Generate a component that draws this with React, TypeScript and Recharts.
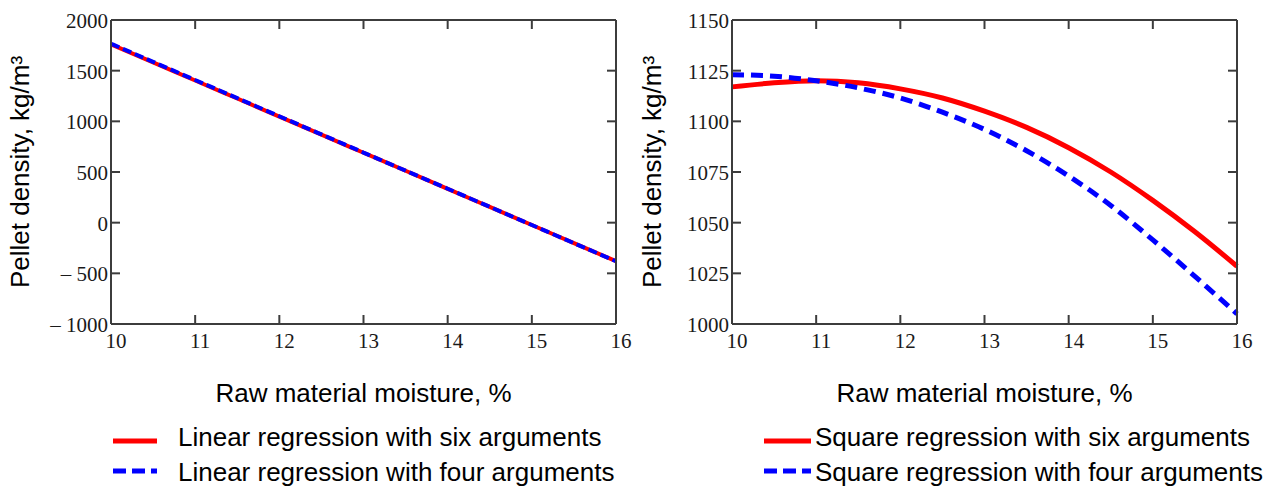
import { LineChart, Line, XAxis, YAxis } from "recharts";

const moisture = [10, 10.5, 11, 11.5, 12, 12.5, 13, 13.5, 14, 14.5, 15, 15.5, 16];
const linearSix = [1760, 1582, 1403, 1225, 1047, 868, 690, 512, 333, 155, -23, -202, -380];
const linearFour = [1766, 1587, 1408, 1229, 1050, 871, 692, 513, 335, 156, -23, -202, -381];
const squareSix = [1117, 1119, 1120, 1119, 1116, 1111.5, 1105, 1097, 1087, 1075, 1061, 1045.5, 1028.5];
const squareFour = [1123, 1122.3, 1120, 1116.5, 1111.5, 1104.5, 1096, 1085.5, 1073, 1058.5, 1041.5, 1023.5, 1005];

const xTicks = [10, 11, 12, 13, 14, 15, 16];
const leftTicks = [-1000, -500, 0, 500, 1000, 1500, 2000];
const rightTicks = [1000, 1025, 1050, 1075, 1100, 1125, 1150];

const leftLegend = ["Linear regression with six arguments", "Linear regression with four arguments"];
const rightLegend = ["Square regression with six arguments", "Square regression with four arguments"];

const AXIS = "#3c3c3c";
const TEXT = "#1a1a1a";
const SERIF = "'Liberation Serif', 'Times New Roman', serif";
const SANS = "'Liberation Sans', Arial, sans-serif";
const TICK_LEN = 9;

const fmt = (v: number) => (v < 0 ? `\u2013 ${Math.abs(v)}` : String(v));

const BottomTick = (props: any) => {
  const { x, y, payload } = props;
  return (
    <g>
      <line x1={x} y1={y} x2={x} y2={y - TICK_LEN} stroke={AXIS} strokeWidth={2} />
      <text x={x + 5} y={y + 24} textAnchor="middle" fontFamily={SERIF} fontSize={21} fill={TEXT}>
        {payload.value}
      </text>
    </g>
  );
};

const TopTick = (props: any) => {
  const { x, y } = props;
  return <line x1={x} y1={y} x2={x} y2={y + TICK_LEN} stroke={AXIS} strokeWidth={2} />;
};

const LeftTick = (props: any) => {
  const { x, y, payload } = props;
  return (
    <g>
      <line x1={x} y1={y} x2={x + TICK_LEN} y2={y} stroke={AXIS} strokeWidth={2} />
      <text x={x - 3} y={y + 8} textAnchor="end" fontFamily={SERIF} fontSize={21} fill={TEXT}>
        {fmt(payload.value)}
      </text>
    </g>
  );
};

const RightTick = (props: any) => {
  const { x, y } = props;
  return <line x1={x} y1={y} x2={x - TICK_LEN} y2={y} stroke={AXIS} strokeWidth={2} />;
};

function toRows(a: number[], b: number[]) {
  return moisture.map((m, i) => ({ m, six: a[i], four: b[i] }));
}

interface PanelProps {
  rows: { m: number; six: number; four: number }[];
  yTicks: number[];
  width: number;
  right: number;
  yWidth: number;
  labelOffset: number;
  thin: boolean;
}

function Panel({ rows, yTicks, width, right, yWidth, labelOffset, thin }: PanelProps) {
  const domain: [number, number] = [yTicks[0], yTicks[yTicks.length - 1]];
  return (
    <LineChart width={width} height={488} data={rows} margin={{ top: 19, right: right - 1, bottom: 74, left: 0 }}>
      <XAxis
        dataKey="m"
        type="number"
        domain={[10, 16]}
        ticks={xTicks}
        height={90}
        tickSize={0}
        tickMargin={0}
        tickLine={false}
        axisLine={{ stroke: AXIS, strokeWidth: 2 }}
        tick={<BottomTick />}
        interval={0}
        label={{
          value: "Raw material moisture, %",
          position: "insideBottom",
          offset: 12,
          style: { fontFamily: SANS, fontSize: 26, fill: "#000" },
        }}
      />
      <XAxis
        xAxisId="top"
        dataKey="m"
        orientation="top"
        type="number"
        domain={[10, 16]}
        ticks={xTicks}
        height={1}
        tickSize={0}
        tickMargin={0}
        tickLine={false}
        axisLine={{ stroke: AXIS, strokeWidth: 2 }}
        tick={<TopTick />}
        interval={0}
      />
      <YAxis
        type="number"
        domain={domain}
        ticks={yTicks}
        width={yWidth}
        tickSize={0}
        tickMargin={0}
        tickLine={false}
        axisLine={{ stroke: AXIS, strokeWidth: 2 }}
        tick={<LeftTick />}
        interval={0}
        allowDataOverflow
        label={{
          value: "Pellet density, kg/m\u00b3",
          angle: -90,
          position: "insideLeft",
          offset: labelOffset,
          style: { textAnchor: "middle", fontFamily: SANS, fontSize: 26, fill: "#000" },
        }}
      />
      <YAxis
        yAxisId="right"
        orientation="right"
        type="number"
        domain={domain}
        ticks={yTicks}
        width={1}
        tickSize={0}
        tickMargin={0}
        tickLine={false}
        axisLine={{ stroke: AXIS, strokeWidth: 2 }}
        tick={<RightTick />}
        interval={0}
        allowDataOverflow
      />
      {/* invisible series so the frame axes (top / right) get a scale */}
      <Line
        xAxisId="top"
        yAxisId="right"
        dataKey="six"
        stroke="none"
        dot={false}
        legendType="none"
        isAnimationActive={false}
      />
      <Line
        dataKey="six"
        type="monotone"
        stroke="#ff0000"
        strokeWidth={thin ? 4 : 5}
        dot={false}
        isAnimationActive={false}
      />
      <Line
        dataKey="four"
        type="monotone"
        stroke="#0000ff"
        strokeWidth={thin ? 4 : 5}
        strokeDasharray={thin ? "9 4" : "12 7"}
        dot={false}
        isAnimationActive={false}
      />
    </LineChart>
  );
}

function LegendBlock({ left, lineX, textX, labels }: { left: number; lineX: [number, number]; textX: number; labels: string[] }) {
  return (
    <svg width={660} height={90} style={{ position: "absolute", left, top: 410 }}>
      <line x1={lineX[0]} y1={31} x2={lineX[1]} y2={31} stroke="#ff0000" strokeWidth={5} />
      <line x1={lineX[0]} y1={61} x2={lineX[1]} y2={61} stroke="#0000ff" strokeWidth={5} strokeDasharray="13 6" />
      <text x={textX} y={36} fontFamily={SANS} fontSize={26} fill="#000">{labels[0]}</text>
      <text x={textX} y={71} fontFamily={SANS} fontSize={26} fill="#000">{labels[1]}</text>
    </svg>
  );
}

export default function App() {
  return (
    <div style={{ position: "absolute", left: 0, top: 0, width: 1274, height: 488, background: "#fff", overflow: "hidden" }}>
      <div style={{ position: "absolute", left: 0, top: 0 }}>
        <Panel rows={toRows(linearSix, linearFour)} yTicks={leftTicks} width={640} right={24} yWidth={111} labelOffset={20} thin />
      </div>
      <div style={{ position: "absolute", left: 620, top: 0 }}>
        <Panel rows={toRows(squareSix, squareFour)} yTicks={rightTicks} width={654} right={37} yWidth={112} labelOffset={32} thin={false} />
      </div>
      <LegendBlock left={0} lineX={[113, 157]} textX={178} labels={leftLegend} />
      <LegendBlock left={620} lineX={[144, 191]} textX={195} labels={rightLegend} />
    </div>
  );
}
